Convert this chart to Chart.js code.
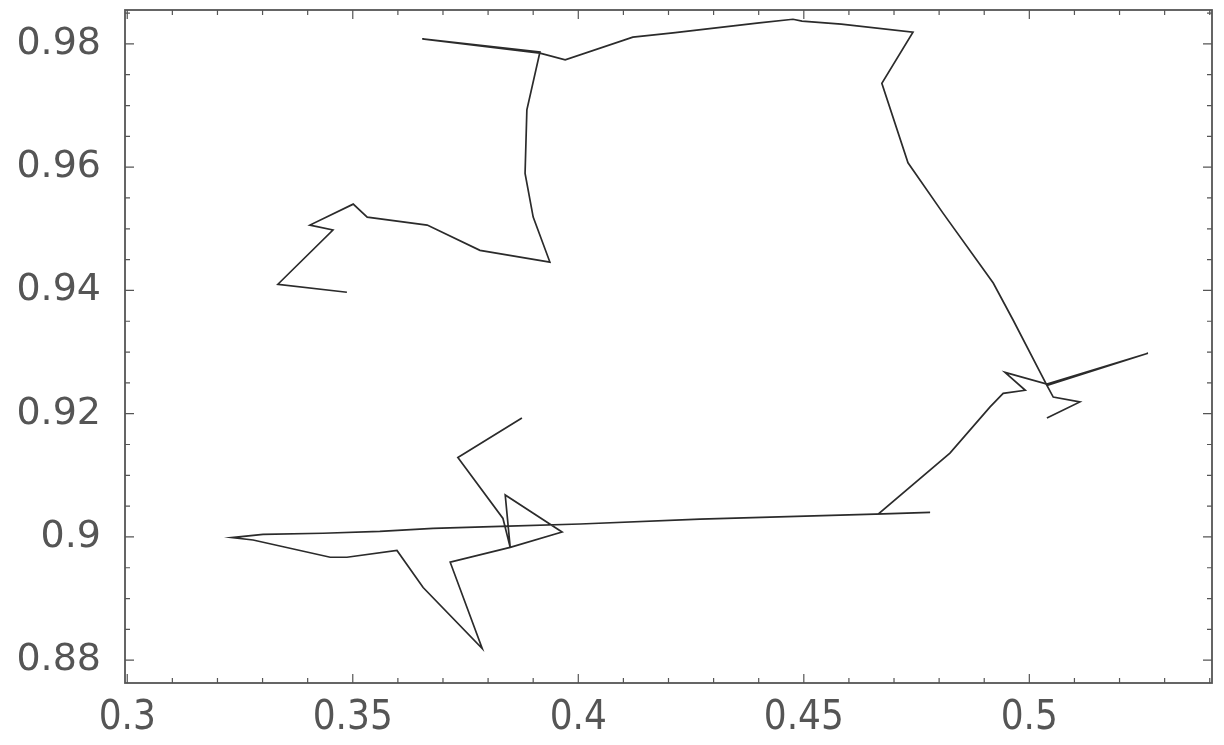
<!DOCTYPE html>
<html>
<head>
<meta charset="utf-8">
<script src="https://cdn.jsdelivr.net/npm/chart.js@4.4.1/dist/chart.umd.min.js"></script>
<style>
	body { margin: 0; background: #fff; }
	#wrap { width: 1224px; height: 745px; }
</style>
</head>
<body>
<div id="wrap"><canvas id="chart-path" width="1224" height="745"></canvas></div>
<script>
// upper path: starts at the tail near 0.94, ends at the hook on the right
var upperX = [0.3487, 0.3334, 0.3456, 0.3405, 0.3501, 0.3532, 0.3665, 0.3782, 0.3937, 0.3900,
	0.3882, 0.3886, 0.3915, 0.3654, 0.3915, 0.3971, 0.4121, 0.4210, 0.4401, 0.4476,
	0.4496, 0.4583, 0.4742, 0.4673, 0.4731, 0.4809, 0.4920, 0.4964, 0.5039, 0.5053,
	0.5112, 0.5039];
var upperY = [0.9397, 0.9410, 0.9498, 0.9506, 0.9540, 0.9519, 0.9506, 0.9465, 0.9446, 0.9519,
	0.9590, 0.9693, 0.9787, 0.9808, 0.9785, 0.9774, 0.9811, 0.9818, 0.9834, 0.9840,
	0.9837, 0.9832, 0.9819, 0.9736, 0.9607, 0.9525, 0.9412, 0.9352, 0.9246, 0.9227,
	0.9219, 0.9193];

// lower path: starts at the stub near (0.39, 0.92), ends at the crossing on the right
var lowerX = [0.3875, 0.3733, 0.3833, 0.3849, 0.3838, 0.3964, 0.3849, 0.3716, 0.3787, 0.3656,
	0.3598, 0.3487, 0.3450, 0.3279, 0.3232, 0.3301, 0.3434, 0.3560, 0.3678, 0.3827,
	0.4004, 0.4270, 0.4658, 0.4780, 0.4665, 0.4824, 0.4913, 0.4942, 0.4991, 0.4946,
	0.5039, 0.5263, 0.5039];
var lowerY = [0.9193, 0.9129, 0.9030, 0.8983, 0.9068, 0.9008, 0.8983, 0.8959, 0.8819, 0.8918,
	0.8978, 0.8967, 0.8967, 0.8995, 0.8999, 0.9004, 0.9006, 0.9009, 0.9014, 0.9017,
	0.9021, 0.9029, 0.9037, 0.9040, 0.9037, 0.9136, 0.9211, 0.9233, 0.9238, 0.9267,
	0.9248, 0.9298, 0.9246];

var xTickValues = [0.3, 0.35, 0.4, 0.45, 0.5];
var xTickLabels = ["0.3", "0.35", "0.4", "0.45", "0.5"];
var yTickValues = [0.88, 0.9, 0.92, 0.94, 0.96, 0.98];
var yTickLabels = ["0.88", "0.9", "0.92", "0.94", "0.96", "0.98"];

function toPoints(xs, ys) {
	var pts = [];
	for (var i = 0; i < xs.length; ++i) {
		pts.push({ x: xs[i], y: ys[i] });
	}
	return pts;
}

function pathDataset(xs, ys) {
	return {
		data: toPoints(xs, ys),
		showLine: true,
		borderColor: "#2b2b2b",
		borderWidth: 1.7,
		pointRadius: 0,
		tension: 0,
		fill: false
	};
}

// frame with inward ticks on all four sides, the Mathematica way
var frameTicks = {
	id: "frameTicks",
	afterDraw: function(chart) {
		var ctx = chart.ctx;
		var a = chart.chartArea;
		var xs = chart.scales.x;
		var ys = chart.scales.y;
		ctx.save();
		ctx.strokeStyle = "#555";
		ctx.lineWidth = 1.2;

		function tick(px, len, vertical) {
			ctx.beginPath();
			if (vertical) {
				ctx.moveTo(px, a.bottom); ctx.lineTo(px, a.bottom - len);
				ctx.moveTo(px, a.top); ctx.lineTo(px, a.top + len);
			} else {
				ctx.moveTo(a.left, px); ctx.lineTo(a.left + len, px);
				ctx.moveTo(a.right, px); ctx.lineTo(a.right - len, px);
			}
			ctx.stroke();
		}

		for (var i = 30; i <= 54; ++i) {
			var v = i / 100;
			var major = i % 5 == 0;
			tick(xs.getPixelForValue(v), major ? 9 : 5, true);
		}
		for (var j = 176; j <= 197; ++j) {
			var w = j / 200;
			var majorY = j % 4 == 0;
			tick(ys.getPixelForValue(w), majorY ? 9 : 5, false);
		}

		ctx.lineWidth = 1.8;
		ctx.strokeRect(a.left, a.top, a.right - a.left, a.bottom - a.top);
		ctx.restore();
	}
};

var ctx = document.getElementById("chart-path").getContext("2d");
var chart = new Chart(ctx, {
	type: "scatter",
	data: {
		datasets: [pathDataset(upperX, upperY), pathDataset(lowerX, lowerY)]
	},
	options: {
		responsive: false,
		animation: false,
		layout: { padding: { top: 10, right: 12, left: 0, bottom: 0 } },
		plugins: {
			legend: { display: false },
			tooltip: { enabled: false }
		},
		scales: {
			x: {
				type: "linear",
				min: 0.2995,
				max: 0.5405,
				afterFit: function(scale) {
					scale.height = 62;
					scale.paddingLeft = 0;
					scale.paddingRight = 0;
				},
				afterBuildTicks: function(scale) {
					scale.ticks = xTickValues.map(function(v) { return { value: v }; });
				},
				ticks: {
					autoSkip: false,
					maxRotation: 0,
					padding: 12,
					color: "#555",
					font: { family: "'Liberation Sans Narrow', 'DejaVu Sans Condensed', 'DejaVu Sans'", size: 40 },
					callback: function(value) {
						var idx = xTickValues.indexOf(value);
						return idx >= 0 ? xTickLabels[idx] : "";
					}
				},
				grid: { display: false, drawTicks: false },
				border: { display: false }
			},
			y: {
				type: "linear",
				min: 0.8763,
				max: 0.9855,
				afterFit: function(scale) {
					scale.width = 125;
					scale.paddingTop = 0;
					scale.paddingBottom = 0;
				},
				afterBuildTicks: function(scale) {
					scale.ticks = yTickValues.map(function(v) { return { value: v }; });
				},
				ticks: {
					autoSkip: false,
					padding: 24,
					color: "#555",
					font: { family: "'DejaVu Sans'", size: 38 },
					callback: function(value) {
						var idx = yTickValues.indexOf(value);
						return idx >= 0 ? yTickLabels[idx] : "";
					}
				},
				grid: { display: false, drawTicks: false },
				border: { display: false }
			}
		}
	},
	plugins: [frameTicks]
});
</script>
</body>
</html>
